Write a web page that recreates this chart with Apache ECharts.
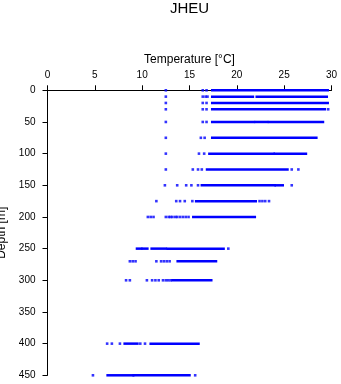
<!DOCTYPE html>
<html>
<head>
<meta charset="utf-8">
<script src="https://cdn.jsdelivr.net/npm/echarts@6/dist/echarts.min.js"></script>
<style>html,body{margin:0;padding:0;background:#fff}#c{width:341px;height:384px}</style>
</head>
<body>
<div id="c"></div>
<script>
// Depth levels [m]
const depths = [0, 10, 20, 30, 50, 75, 100, 125, 150, 175, 200, 250, 270, 300, 400, 450];
// Isolated temperature readings [°C] at each depth level
const points = [
  [12.5, 16.4, 16.8],
  [12.5, 16.4, 16.7, 16.9],
  [12.5, 16.4, 16.8],
  [12.5, 16.4, 16.8, 29.65],
  [12.5, 16.4, 16.8],
  [12.5, 16.2, 16.6],
  [12.5, 16.0, 16.55],
  [12.5, 15.35, 15.9, 16.3, 25.8, 26.5],
  [12.4, 13.7, 14.65, 15.2, 15.9, 25.8],
  [11.5, 13.6, 14.0, 14.5, 15.3, 22.4, 22.7, 23.0, 23.4],
  [10.6, 10.9, 11.2, 12.5, 12.8, 13.0, 13.2, 13.5, 13.7, 14.0, 14.3, 14.6, 14.9],
  [19.1],
  [8.7, 9.0, 9.3, 11.5, 12.0, 12.3, 12.6, 12.9],
  [8.3, 8.7, 10.5, 11.05, 11.4, 11.75, 12.2, 12.5, 12.75, 13.0],
  [6.3, 6.8, 7.65, 9.8, 10.3],
  [4.8, 15.6]
];
// Densely sampled temperature ranges [from, to] at each depth level
const runs = [
  [[17.4, 29.6]],
  [[17.4, 21.7], [22.1, 29.5]],
  [[17.4, 29.6]],
  [[17.4, 29.3]],
  [[17.4, 21.8], [22.0, 23.2], [23.4, 29.1]],
  [[17.4, 28.4]],
  [[17.1, 23.9], [24.0, 27.3]],
  [[16.85, 25.35]],
  [[16.3, 24.0], [24.1, 24.85]],
  [[15.7, 22.0]],
  [[15.4, 21.9]],
  [[9.45, 9.9], [10.05, 10.55], [11.0, 12.5], [12.7, 18.6]],
  [[13.75, 17.8]],
  [[13.2, 17.3]],
  [[8.15, 9.5], [10.9, 15.95]],
  [[6.35, 9.05], [9.1, 15.0]]
];
const xTicks = [0, 5, 10, 15, 20, 25, 30];
const yTicks = [0, 50, 100, 150, 200, 250, 300, 350, 400, 450];

const scatterData = [];
depths.forEach((d, i) => points[i].forEach(t => scatterData.push([t, d])));
const runData = [];
depths.forEach((d, i) => runs[i].forEach(r => runData.push([r[0], r[1], d])));

const FONT = '"Liberation Sans", Arial, sans-serif';
const BLUE = '#0000ff';
const chart = echarts.init(document.getElementById('c'), null, {renderer: 'canvas'});
chart.setOption({
  animation: false,
  backgroundColor: '#ffffff',
  title: {
    text: 'JHEU', left: 170, top: 1, padding: 0,
    textStyle: {fontFamily: FONT, fontSize: 15, fontWeight: 'normal', color: '#000'}
  },
  grid: {left: 47.5, right: 9.5, top: 90.3, bottom: 8.7, containLabel: false, outerBoundsMode: 'none'},
  xAxis: {
    type: 'value', position: 'top', min: 0, max: 30, interval: 5,
    name: 'Temperature [°C]', nameLocation: 'middle', nameGap: 25,
    nameTextStyle: {fontFamily: FONT, fontSize: 12, color: '#000'},
    axisLine: {show: true, lineStyle: {color: '#000', width: 1}},
    axisTick: {show: true, inside: false, length: 5, lineStyle: {color: '#000'}},
    axisLabel: {fontFamily: FONT, fontSize: 10, color: '#000', margin: 10,
      formatter: v => xTicks.includes(v) ? String(v) : ''},
    splitLine: {show: false}
  },
  yAxis: {
    type: 'value', inverse: true, min: 0, max: 450, interval: 50,
    name: 'Depth [m]', nameLocation: 'middle', nameGap: 39, nameRotate: 90,
    nameTextStyle: {fontFamily: FONT, fontSize: 12, color: '#000'},
    axisLine: {show: true, lineStyle: {color: '#000', width: 1}},
    axisTick: {show: true, inside: false, length: 5, lineStyle: {color: '#000'}},
    axisLabel: {fontFamily: FONT, fontSize: 10, color: '#000', margin: 12,
      formatter: v => yTicks.includes(v) ? String(v) : ''},
    splitLine: {show: false}
  },
  series: [
    {
      type: 'custom',
      data: runData,
      encode: {x: [0, 1], y: 2},
      clip: false,
      renderItem: function (params, api) {
        const p0 = api.coord([api.value(0), api.value(2)]);
        const p1 = api.coord([api.value(1), api.value(2)]);
        return {
          type: 'rect',
          shape: {x: p0[0] - 1.25, y: p0[1] - 1.25, width: p1[0] - p0[0] + 2.5, height: 2.5},
          style: {fill: BLUE}
        };
      }
    },
    {
      type: 'scatter',
      data: scatterData,
      symbol: 'rect',
      symbolSize: 2.6,
      itemStyle: {color: BLUE},
      clip: false
    }
  ]
});
</script>
</body>
</html>
